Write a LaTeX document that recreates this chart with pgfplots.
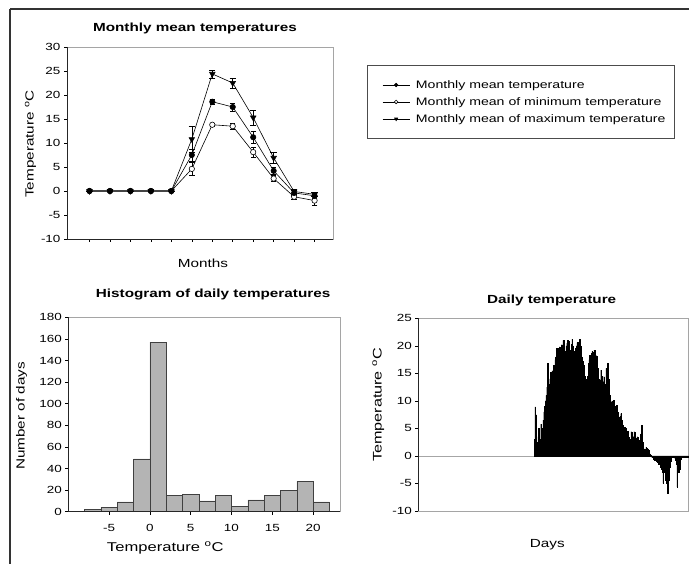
\documentclass[border=0pt]{standalone}
\usepackage{fontspec}
\setmainfont{Liberation Sans}[FakeStretch=1.3]
\usepackage{pgfplots}
\usepackage{pgfplotstable}
\pgfplotsset{compat=1.18}
\definecolor{barfill}{RGB}{180,180,180}
\definecolor{frameline}{RGB}{165,165,165}

\pgfplotstableread[row sep=\\]{
d t\\
157 3.0\\ 158 8.9\\ 159 7.5\\ 160 2.5\\ 161 2.0\\ 162 3.5\\ 163 5.0\\ 164 3.0\\ 165 2.5\\ 166 5.8\\
167 4.0\\ 168 5.0\\ 169 6.5\\ 170 8.0\\ 171 9.0\\ 172 10.0\\ 173 11.0\\ 174 12.5\\ 175 16.8\\ 176 12.0\\
177 13.0\\ 178 14.0\\ 179 15.2\\ 180 13.5\\ 181 15.5\\ 182 15.0\\ 183 16.5\\ 184 15.8\\ 185 17.5\\ 186 18.0\\
187 19.5\\ 188 18.5\\ 189 19.6\\ 190 18.5\\ 191 19.8\\ 192 19.0\\ 193 18.8\\ 194 20.2\\ 195 19.0\\ 196 21.0\\
197 20.5\\ 198 19.0\\ 199 18.2\\ 200 20.0\\ 201 20.5\\ 202 21.0\\ 203 20.0\\ 204 20.8\\ 205 19.2\\ 206 18.5\\
207 20.3\\ 208 21.2\\ 209 20.0\\ 210 19.0\\ 211 18.0\\ 212 18.8\\ 213 19.5\\ 214 20.0\\ 215 20.6\\ 216 19.8\\
217 20.5\\ 218 21.2\\ 219 20.0\\ 220 19.0\\ 221 18.0\\ 222 17.2\\ 223 16.5\\ 224 15.8\\ 225 14.5\\ 226 14.0\\
227 13.5\\ 228 12.8\\ 229 14.5\\ 230 16.8\\ 231 17.5\\ 232 18.3\\ 233 17.8\\ 234 18.6\\ 235 19.0\\ 236 18.0\\
237 18.8\\ 238 19.2\\ 239 18.3\\ 240 17.5\\ 241 18.2\\ 242 16.0\\ 243 15.3\\ 244 14.0\\ 245 12.5\\ 246 13.8\\
247 15.6\\ 248 14.5\\ 249 11.6\\ 250 13.5\\ 251 14.4\\ 252 13.0\\ 253 12.0\\ 254 15.9\\ 255 14.0\\ 256 16.8\\
257 14.0\\ 258 12.2\\ 259 11.0\\ 260 9.8\\ 261 9.5\\ 262 10.0\\ 263 9.6\\ 264 10.1\\ 265 9.0\\ 266 8.3\\
267 8.8\\ 268 9.2\\ 269 8.0\\ 270 7.7\\ 271 7.0\\ 272 6.5\\ 273 7.2\\ 274 7.7\\ 275 6.5\\ 276 5.6\\
277 5.0\\ 278 4.4\\ 279 5.2\\ 280 5.0\\ 281 4.2\\ 282 3.8\\ 283 4.5\\ 284 3.5\\ 285 3.0\\ 286 2.2\\
287 3.0\\ 288 4.4\\ 289 3.5\\ 290 3.2\\ 291 3.5\\ 292 4.4\\ 293 3.8\\ 294 3.2\\ 295 2.5\\ 296 3.5\\
297 3.0\\ 298 2.8\\ 299 2.5\\ 300 2.0\\ 301 4.0\\ 302 5.6\\ 303 2.5\\ 304 1.6\\ 305 1.2\\ 306 1.3\\
307 1.0\\ 308 1.6\\ 309 1.4\\ 310 1.3\\ 311 1.0\\ 312 0.6\\ 313 0.4\\ 314 0.2\\ 315 0.0\\ 316 -0.3\\
317 -0.2\\ 318 -0.5\\ 319 -0.7\\ 320 -0.6\\ 321 -0.8\\ 322 -1.0\\ 323 -1.1\\ 324 -0.9\\ 325 -1.4\\ 326 -1.2\\
327 -1.6\\ 328 -2.0\\ 329 -2.4\\ 330 -2.9\\ 331 -5.0\\ 332 -3.0\\ 333 -2.9\\ 334 -4.4\\ 335 -3.0\\ 336 -5.0\\
337 -6.8\\ 338 -4.4\\ 339 -2.5\\ 340 -2.0\\ 341 -1.0\\ 342 -0.3\\ 343 -0.2\\ 344 -0.3\\ 345 -0.2\\ 346 -0.3\\
347 -0.5\\ 348 -0.8\\ 349 -1.5\\ 350 -5.6\\ 351 -2.6\\ 352 -3.0\\ 353 -2.3\\ 354 -1.0\\ 355 -0.5\\ 356 -0.3\\
357 -0.3\\ 358 -0.3\\ 359 -0.3\\ 360 -0.3\\ 361 -0.3\\ 362 -0.3\\ 363 -0.3\\ 364 -0.3\\ 365 -0.3\\
}\daily

\pgfplotsset{
  panel/.style={
    scale only axis,
    anchor=south west,
    axis line style={frameline, line width=0.6bp},
    tick align=outside, tick pos=left,
    major tick length=3bp,
    tick style={black, line width=0.5bp},
    /pgf/number format/assume math mode=true,
    ticklabel style={font=\fontsize{10.4}{12}\selectfont},
    every axis title/.style={font=\bfseries\fontsize{11.8}{14}\selectfont, anchor=center},
    every axis y label/.style={font=\fontsize{11.8}{14}\selectfont, rotate=90, anchor=center},
    every axis x label/.style={font=\fontsize{11.8}{14}\selectfont, anchor=center},
    clip=false,
  },
  meanst/.style={black, line width=0.6bp, mark=*, mark size=2.7bp, mark options={solid, fill=black}},
  minst/.style={black, line width=0.6bp, mark=*, mark size=2.7bp, mark options={solid, fill=white}},
  maxst/.style={black, line width=0.6bp, mark=triangle*, mark size=3.2bp, mark options={solid, fill=black, rotate=180}},
}

\begin{document}
\begin{tikzpicture}
\useasboundingbox (0bp,0bp) rectangle (689bp,564bp);
\draw[line width=1.3bp, black!80] (10bp,555bp) -- (689bp,555bp);
\draw[line width=1.3bp, black!80] (10bp,555bp) -- (10bp,0bp);

% ---------- Monthly mean temperatures ----------
\begin{axis}[panel,
  at={(67bp,325bp)}, width=266bp, height=192bp,
  xmin=-0.1, xmax=12.9, ymin=-10, ymax=30,
  xtick={1,...,12}, xticklabels={},
  ytick={-10,-5,...,30},
  title={Monthly mean temperatures},
  title style={at={(axis description cs:0.481,1.094)}},
  xlabel={Months},
  xlabel style={at={(axis description cs:0.511,-0.125)}},
  ylabel={Temperature \textsuperscript{o}C},
  ylabel style={at={(axis description cs:-0.137,0.495)}},
  legend style={at={(axis description cs:1.128,0.906)}, anchor=north west,
    draw=black!70, line width=0.6bp, font=\fontsize{10.9}{12}\selectfont,
    inner xsep=7bp, inner ysep=13bp, row sep=3.6bp, column sep=4bp, cells={anchor=west}},
  legend image code/.code={\path (0bp,0bp); \draw[mark repeat=2, mark phase=2, #1] plot coordinates {(8bp,0bp) (21.5bp,0bp) (35bp,0bp)};},
  legend image post style={mark size=1.8bp},
  after end axis/.code={\draw[black!85, line width=0.6bp] (rel axis cs:0,1) -- (rel axis cs:0,0) -- (rel axis cs:1,0);},
]
\addlegendimage{meanst}\addlegendentry{Monthly mean temperature}
\addlegendimage{minst}\addlegendentry{Monthly mean of minimum temperature}
\addlegendimage{maxst}\addlegendentry{Monthly mean of maximum temperature}

\addplot[minst, forget plot, error bars/.cd, y dir=both, y explicit, error bar style={line width=0.5bp, solid}] coordinates {
 (1,0) +- (0,0) (2,0) +- (0,0) (3,0) +- (0,0) (4,0) +- (0,0) (5,0) +- (0,0)
 (6,4.6) +- (0,1.4) (7,13.8) +- (0,0.4) (8,13.5) +- (0,0.7) (9,8.1) +- (0,1.0)
 (10,2.6) +- (0,0.6) (11,-1.2) +- (0,0.6) (12,-2.0) +- (0,0.9)};
\addplot[maxst, forget plot, error bars/.cd, y dir=both, y explicit, error bar style={line width=0.5bp, solid}] coordinates {
 (1,0) +- (0,0) (2,0) +- (0,0) (3,0) +- (0,0) (4,0) +- (0,0) (5,0) +- (0,0)
 (6,10.8) +- (0,2.7) (7,24.4) +- (0,0.8) (8,22.5) +- (0,1.1) (9,15.3) +- (0,1.6)
 (10,6.9) +- (0,1.1) (11,-0.1) +- (0,0.5) (12,-0.7) +- (0,0.4)};
\addplot[meanst, forget plot, error bars/.cd, y dir=both, y explicit, error bar style={line width=0.5bp, solid}] coordinates {
 (1,0) +- (0,0) (2,0) +- (0,0) (3,0) +- (0,0) (4,0) +- (0,0) (5,0) +- (0,0)
 (6,7.5) +- (0,1.2) (7,18.6) +- (0,0.5) (8,17.5) +- (0,0.8) (9,11.2) +- (0,1.2)
 (10,4.2) +- (0,0.7) (11,-0.4) +- (0,0.5) (12,-1.0) +- (0,0.4)};
\end{axis}

% ---------- Histogram ----------
\begin{axis}[panel,
  at={(68.3bp,52.3bp)}, width=271.7bp, height=194.4bp,
  xmin=-10, xmax=23.3, ymin=0, ymax=180,
  xtick={-5,0,...,20}, ytick={0,20,...,180},
  xticklabel style={yshift=-6bp},
  title={Histogram of daily temperatures},
  title style={at={(axis description cs:0.533,1.115)}},
  xlabel={Temperature \textsuperscript{o}C},
  xlabel style={at={(axis description cs:0.357,-0.187)}, font=\fontsize{12.8}{15}\selectfont},
  ylabel={Number of days},
  ylabel style={at={(axis description cs:-0.172,0.493)}},
  after end axis/.code={\draw[black!85, line width=0.6bp] (rel axis cs:0,1) -- (rel axis cs:0,0) -- (rel axis cs:1,0);},
]
\addplot[ybar, bar width=2, bar shift=0pt, fill=barfill, draw=black!75, line width=0.5bp] coordinates {
 (-7,2) (-5,4) (-3,9) (-1,49) (1,157) (3,15) (5,16) (7,10) (9,15) (11,5) (13,11) (15,15) (17,20) (19,28) (21,9)};
\end{axis}

% ---------- Daily temperature ----------
\begin{axis}[panel,
  at={(418.3bp,53bp)}, width=270bp, height=192.7bp,
  xmin=0, xmax=365, ymin=-10, ymax=25,
  xtick=\empty, ytick={-10,-5,...,25},
  extra y ticks={0}, extra y tick labels={},
  extra y tick style={grid=major, major grid style={gray!70, line width=0.5bp}},
  title={Daily temperature},
  title style={at={(axis description cs:0.494,1.091)}},
  xlabel={Days},
  xlabel style={at={(axis description cs:0.478,-0.176)}},
  ylabel={Temperature \textsuperscript{o}C},
  ylabel style={at={(axis description cs:-0.148,0.55)}, font=\fontsize{12.5}{14}\selectfont},
  after end axis/.code={\draw[black!85, line width=0.6bp] (rel axis cs:0,1) -- (rel axis cs:0,0);},
]
\addplot[ybar, bar width=1, bar shift=0pt, fill=black, draw=black, line width=0.2bp] table[x=d, y=t] {\daily};
\end{axis}
\end{tikzpicture}
\end{document}
